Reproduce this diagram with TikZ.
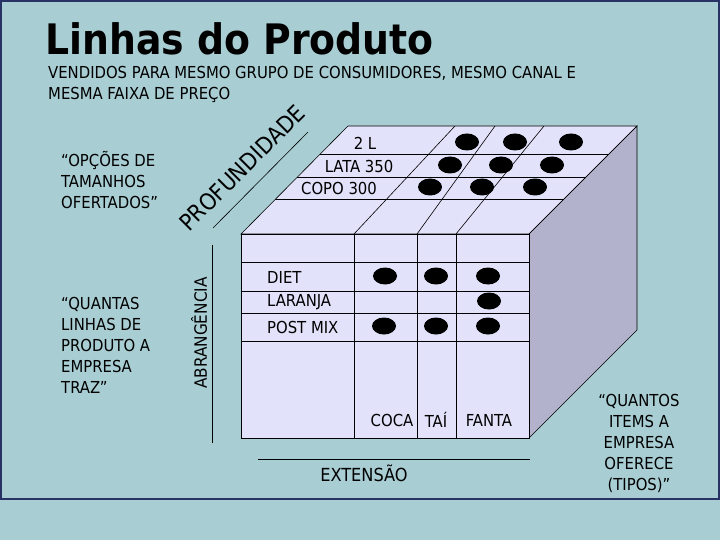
\documentclass[tikz,border=0pt]{standalone}
\usepackage{fontspec}
\setmainfont{DejaVu Sans Condensed}
\definecolor{bgc}{RGB}{168,206,212}
\definecolor{framec}{RGB}{40,50,100}
\definecolor{sidec}{RGB}{178,178,204}
\definecolor{facec}{RGB}{226,226,250}
\begin{document}
\begin{tikzpicture}[x=1pt,y=-1pt,
  lbl/.style={font=\fontsize{16.5}{21}\selectfont,inner sep=0pt},
  face/.style={draw=black,line width=0.6pt}]
\useasboundingbox (0,0) rectangle (720,540);
\fill[bgc] (0,0) rectangle (720,540);
\draw[line width=2pt,color=framec] (1,1) rectangle (719,499);
\node[font=\bfseries\fontsize{42}{44}\selectfont,anchor=west] (title) at (42,39) {Linhas do Produto};
\node[lbl,anchor=north west,align=left] (sub) at (48,66) {VENDIDOS PARA MESMO GRUPO DE CONSUMIDORES, MESMO CANAL E\\MESMA FAIXA DE PREÇO};
% cube
\fill[sidec] (529,234) -- (637,126) -- (637,330) -- (529,438) -- cycle;
\fill[facec] (241,234) -- (348,126) -- (637,126) -- (529,234) -- cycle;
\fill[facec] (241,234) rectangle (529,438);
\draw[face] (241,234) -- (348,126) -- (637,126) -- (529,234) -- cycle;
\draw[face] (529,234) -- (637,126) -- (637,330) -- (529,438);
\draw[face] (241,234) rectangle (529,438);
\foreach \y in {262,291,313,341} \draw[face] (241,\y) -- (529,\y);
\foreach \x in {354,417,456} \draw[face] (\x,234) -- (\x,438);
\draw[face] (354,234) -- (455,126);
\draw[face] (417,234) -- (495,126);
\draw[face] (456,234) -- (544,126);
\foreach \y in {154,177,199} \draw[face] ({348-(\y-126)},\y) -- ({637-(\y-126)},\y);
\node[lbl] (l2) at (365,143) {2 L};
\node[lbl] (l350) at (359,166) {LATA 350};
\node[lbl] (l300) at (339,188) {COPO 300};
\node[lbl,anchor=west] (diet) at (267,277) {DIET};
\node[lbl,anchor=west] (lar) at (267,302) {LARANJA};
\node[lbl,anchor=west] (post) at (267,327) {POST MIX};
\node[lbl] (coca) at (392,420) {COCA};
\node[lbl] (tai) at (436,420) {TAÍ};
\node[lbl] (fanta) at (489,420) {FANTA};
\foreach \x/\y in {467/142,515/142,571/142,450/165,501/165,552/165,430/187,482/187,535/187,385/276,436/276,488/276,489/301,384/326,436/326,488/326}
  \fill (\x,\y) ellipse (12 and 8.5);
% axes
\coordinate (p1) at (213,228); \coordinate (p2) at (308,132);
\draw[line width=0.6pt] (p1) -- (p2);
\node[lbl,font=\fontsize{23}{24}\selectfont,rotate=45] (prof) at (242,168) {PROFUNDIDADE};
\coordinate (a1) at (212,245); \coordinate (a2) at (212,443);
\draw[line width=0.6pt] (a1) -- (a2);
\node[lbl,font=\fontsize{17}{19}\selectfont,rotate=90] (abr) at (199,333) {ABRANGÊNCIA};
\coordinate (e1) at (258,459); \coordinate (e2) at (530,459);
\draw[line width=0.6pt] (e1) -- (e2);
\node[lbl,font=\fontsize{18}{19}\selectfont] (ext) at (364,473) {EXTENSÃO};
\node[lbl,align=left,anchor=north west] (opc) at (61,151) {“OPÇÕES DE\\TAMANHOS\\OFERTADOS”};
\node[lbl,align=left,anchor=north west] (qual) at (61,297) {“QUANTAS\\LINHAS DE\\PRODUTO A\\EMPRESA\\TRAZ”};
\node[lbl,align=center] (quant) at (639,443) {“QUANTOS\\ITEMS A\\EMPRESA\\OFERECE\\(TIPOS)”};
\end{tikzpicture}
\end{document}
